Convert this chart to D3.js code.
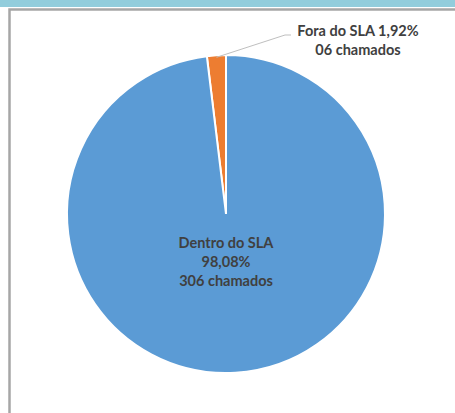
<!DOCTYPE html>
<html><head><meta charset="utf-8">
<script src="https://cdn.jsdelivr.net/npm/d3@7"></script>
<style>html,body{margin:0;padding:0;background:#fff;overflow:hidden}</style>
</head><body>
<svg id="c" width="455" height="413"></svg>
<script>
const categories = ["Fora do SLA", "Dentro do SLA"];
const values = [6, 306];
const percentLabels = ["1,92%", "98,08%"];
const countLabels = ["06 chamados", "306 chamados"];
const colors = ["#ED7D31", "#5B9BD5"];

const svg = d3.select("#c");
svg.append("rect").attr("x",0).attr("y",0).attr("width",455).attr("height",7).attr("fill","#92CDDC");
svg.append("rect").attr("x",9.5).attr("y",9.5).attr("width",460).attr("height",420)
  .attr("fill","#fff").attr("stroke","#A6A6A6").attr("stroke-width",2.5);

const cx = 226, cy = 214, r = 159;
const g = svg.append("g").attr("transform",`translate(${cx},${cy})`);
const total = d3.sum(values);
const off = 2*Math.PI*values[0]/total;
const pie = d3.pie().sort(null).startAngle(-off).endAngle(2*Math.PI - off);
const arcs = pie(values);
const arc = d3.arc().innerRadius(0).outerRadius(r);
g.selectAll("path").data(arcs).enter().append("path")
  .attr("d",arc).attr("fill",(d,i)=>colors[i]).attr("stroke","#fff").attr("stroke-width",2);

const font = "Lato, 'Open Sans', sans-serif";
const a0 = arcs[0];
const mid = (a0.startAngle + a0.endAngle)/2;
const p0 = [Math.sin(mid)*(r-2), -Math.cos(mid)*(r-2)];
svg.append("polyline")
  .attr("points", `${cx+p0[0]},${cy+p0[1]} 285,35 291,35`)
  .attr("fill","none").attr("stroke","#BFBFBF").attr("stroke-width",1);

const t1 = svg.append("text").attr("font-family",font).attr("font-weight","bold").attr("font-size",14.5)
  .attr("fill","#404040").attr("text-anchor","middle");
t1.append("tspan").attr("x",358).attr("y",36).text(categories[0]+" "+percentLabels[0]);
t1.append("tspan").attr("x",358).attr("y",55).text(countLabels[0]);

const t2 = svg.append("text").attr("font-family",font).attr("font-weight","bold").attr("font-size",14.5)
  .attr("fill","#404040").attr("text-anchor","middle");
t2.append("tspan").attr("x",226).attr("y",248).text(categories[1]);
t2.append("tspan").attr("x",226).attr("y",267).text(percentLabels[1]);
t2.append("tspan").attr("x",226).attr("y",286).text(countLabels[1]);
</script>
</body></html>
